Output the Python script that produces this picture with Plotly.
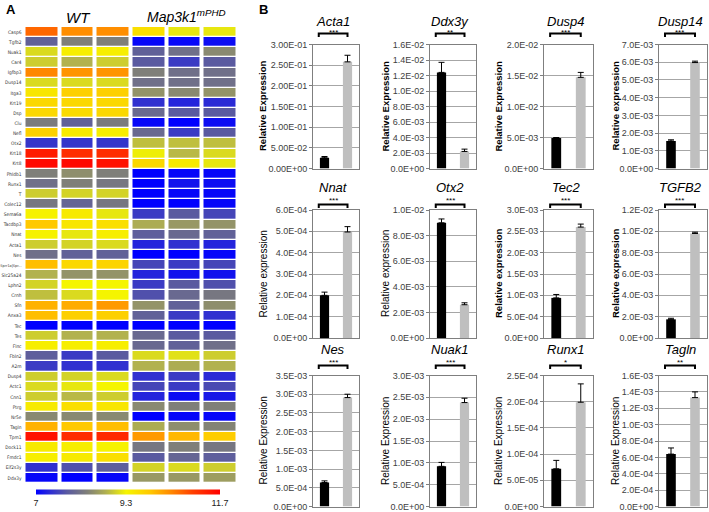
import numpy as np
import plotly.graph_objects as go

W, H = 709, 512

# ---------------- Heatmap data (panel A) ----------------
genes = ["Casp6", "Tgfb2", "Nuak1", "Car4", "Igfbp3", "Dusp14", "Itga3", "Krt19", "Dsp", "Clu",
         "Nefl", "Otx2", "Krt18", "Krt8", "Phldb1", "Runx1", "T", "Colec12", "Sema6a", "Tacdbp3",
         "Nnat", "Acta1", "Nes", "Sprr1a|Spr...", "Slc25a24", "Lphn2", "Crnh", "Sfn", "Anxa3", "Tec",
         "Tes", "Flnc", "Fbln2", "A2m", "Dusp4", "Actc1", "Cnn1", "Ptrg", "Nr5e", "Tagln",
         "Tpm1", "Dock11", "Fmdc1", "Eif2s3y", "Ddx3y"]
samples = ["WT-1", "WT-2", "WT-3", "mPHD-1", "mPHD-2", "mPHD-3"]

wt_expr = [
    [10.7, 10.4, 10.4], [7.9, 8.3, 8.3], [9.1, 9.4, 9.4], [9.0, 8.8, 9.0], [10.45, 10.35, 10.35],
    [9.1, 9.1, 9.1], [9.5, 9.8, 9.8], [9.7, 9.7, 9.7], [9.7, 9.65, 9.7], [8.25, 7.9, 8.25],
    [9.8, 9.45, 9.4], [7.45, 7.45, 7.45], [11.4, 11.2, 11.2], [11.6, 11.6, 11.5], [8.3, 8.45, 8.3],
    [8.1, 8.3, 8.2], [9.0, 9.05, 9.05], [8.2, 7.95, 8.2], [9.35, 9.45, 9.2], [9.9, 9.5, 9.6],
    [9.35, 9.2, 9.4], [9.0, 9.05, 9.1], [8.1, 7.9, 7.9], [10.0, 9.7, 9.75], [8.8, 8.5, 8.5],
    [9.05, 9.3, 9.3], [8.9, 9.1, 9.3], [10.1, 10.15, 10.3], [10.0, 9.8, 9.8], [7.0, 7.0, 7.0],
    [9.0, 8.8, 8.8], [9.4, 9.4, 9.4], [7.85, 7.5, 7.8], [7.5, 7.4, 7.4], [9.0, 9.05, 9.1],
    [9.1, 9.2, 9.3], [9.0, 8.85, 9.0], [9.45, 9.6, 9.5], [8.4, 8.4, 8.4], [10.1, 9.9, 10.0],
    [11.5, 11.2, 11.25], [9.45, 9.4, 9.35], [9.4, 9.45, 9.6], [7.4, 7.7, 7.85], [7.05, 7.0, 7.05],
]
mut_expr = [
    [9.6, 9.2, 9.2], [7.05, 7.05, 7.1], [7.9, 8.1, 8.4], [7.8, 7.5, 7.8], [8.3, 8.1, 8.1],
    [8.1, 8.1, 8.1], [8.5, 8.4, 8.5], [7.4, 7.3, 7.35], [8.0, 7.8, 7.8], [7.05, 7.0, 7.1],
    [8.0, 7.5, 7.8], [8.9, 8.9, 8.9], [9.25, 8.85, 9.1], [9.7, 9.45, 9.2], [7.0, 7.05, 7.05],
    [7.0, 7.15, 7.1], [7.0, 7.05, 7.05], [7.0, 7.0, 7.05], [7.5, 7.8, 7.6], [8.75, 8.55, 8.5],
    [7.85, 8.0, 7.9], [7.3, 7.4, 7.3], [7.0, 7.0, 7.05], [7.6, 7.5, 7.6], [7.3, 7.15, 7.15],
    [7.5, 7.8, 7.7], [7.7, 8.0, 8.2], [8.5, 7.9, 8.45], [7.9, 7.5, 7.4], [7.0, 7.0, 7.0],
    [8.0, 7.8, 7.8], [8.0, 7.9, 8.1], [9.1, 9.15, 9.0], [8.8, 8.75, 8.8], [7.4, 7.5, 7.35],
    [7.6, 7.5, 7.65], [7.3, 7.1, 7.2], [8.4, 8.3, 8.3], [7.0, 7.05, 7.05], [8.75, 8.45, 8.35],
    [10.3, 10.05, 9.85], [8.2, 8.3, 8.2], [7.8, 7.95, 7.85], [9.05, 9.1, 9.0], [8.55, 8.55, 8.6],
]
color_ticks = [7, 9.3, 11.7]

# ---------------- Bar data (panel B) ----------------
bar_genes = ["Acta1", "Ddx3y", "Dusp4", "Dusp14", "Nnat", "Otx2", "Tec2", "TGFB2",
             "Nes", "Nuak1", "Runx1", "Tagln"]
wt_mean = [0.026, 0.0124, 0.0049, 0.00155, 2.0e-4, 9.0e-3, 9.4e-4, 1.75e-3,
           6.4e-4, 9.2e-4, 7.2e-5, 6.4e-4]
wt_err = [0.003, 0.0013, 0.0001, 0.00007, 1.5e-5, 3.0e-4, 8.0e-5, 1.0e-4,
          4.5e-5, 9.0e-5, 1.6e-5, 7.5e-5]
mut_mean = [0.258, 0.0022, 0.0147, 0.00598, 4.97e-4, 2.6e-3, 2.6e-3, 9.8e-3,
            2.91e-3, 2.38e-3, 1.99e-4, 1.33e-3]
mut_err = [0.016, 0.0003, 0.0008, 0.00008, 2.5e-5, 1.5e-4, 7.0e-5, 1.2e-4,
           9.0e-5, 1.0e-4, 3.5e-5, 7.0e-5]
stars = ["***", "**", "***", "***", "***", "***", "***", "***", "***", "***", "*", "**"]
y_max = [0.30, 0.016, 0.020, 0.007, 6e-4, 0.010, 3e-3, 0.012, 3.5e-3, 3e-3, 2.5e-4, 1.6e-3]
y_step = [0.05, 0.002, 0.005, 0.001, 1e-4, 0.002, 5e-4, 0.002, 5e-4, 5e-4, 5e-5, 2e-4]
tick_dec = [2, 1, 1, 1, 1, 1, 1, 1, 1, 1, 1, 1]
y_titles = ["Relative Expression", "Relative Expression", "Relative Expression", "Relative expression",
            "Relative expression", "Relative expression", "Relative expression", "Relative expression",
            "Relative Expression", "Relative Expression", "Relative Expression", "Relative Expression"]
y_title_bold = [True, True, True, True, False, False, True, True, False, False, False, False]

# ---------------- helpers ----------------
def px(x):
    return x / W

def py(y):
    return 1 - y / H

FONT = "Liberation Sans, Arial, sans-serif"
NARROW = "Liberation Sans Narrow, DejaVu Sans Condensed, Liberation Sans, sans-serif"

colorscale = [
    [0.0, "#0000ff"], [0.085, "#3030d0"], [0.17, "#5a5aa0"], [0.28, "#808078"],
    [0.38, "#b0b050"], [0.49, "#f5f500"], [0.62, "#ffc800"], [0.72, "#ff9000"],
    [0.85, "#ff4000"], [1.0, "#ff0000"],
]

# long labels are drawn a little smaller so they fit left of the heatmap
gene_ticktext = [g if len(g) <= 8 else f"<span style='font-size:3.8px'>{g}</span>" for g in genes]

fig = go.Figure()

z = [w + m for w, m in zip(wt_expr, mut_expr)]
fig.add_trace(go.Heatmap(
    z=z, x=list(range(len(samples))), y=list(range(len(genes))),
    colorscale=colorscale, zmin=7, zmax=11.7, xgap=4, ygap=1.3,
    colorbar=dict(orientation="h", x=px(128), xanchor="center", y=py(497), yanchor="middle",
                  len=184 / W, lenmode="fraction", thickness=5, thicknessmode="pixels",
                  tickvals=color_ticks, ticktext=[str(t) for t in color_ticks], ticks="",
                  outlinewidth=0, xpad=0, ypad=0,
                  tickfont=dict(family=FONT, size=9, color="#222")),
    xaxis="x", yaxis="y",
))

layout = dict(
    template="none",
    width=W, height=H, margin=dict(l=0, r=0, t=0, b=0, pad=0, autoexpand=False),
    paper_bgcolor="white", plot_bgcolor="white", showlegend=False,
    xaxis=dict(domain=[px(23.5), px(237.5)], showticklabels=False, showgrid=False,
               zeroline=False, range=[-0.5, 5.5], automargin=False, showline=False, ticks=""),
    yaxis=dict(domain=[py(483), py(27)], range=[44.5, -0.5], tickmode="array",
               tickvals=list(range(len(genes))), ticktext=gene_ticktext, showgrid=False,
               zeroline=False, tickfont=dict(family=NARROW, size=4.8, color="#333"), ticks="",
               ticklabelstandoff=1, automargin=False, showline=False),
)

def ann(text, x, y, size, **kw):
    d = dict(text=text, x=px(x), y=py(y), xref="paper", yref="paper", xanchor="center",
             yanchor="middle", showarrow=False, font=dict(family=FONT, size=size, color="black"))
    d.update(kw)
    return d

annotations = [
    ann("<b>A</b>", 4, 9, 13, xanchor="left"),
    ann("<b>B</b>", 257, 9, 13, xanchor="left"),
    ann("<i>WT</i>", 78, 17, 15),
    ann("<i>Map3k1<sup>mPHD</sup></i>", 187, 16, 14),
]
shapes = []

col_x = [(313, 359), (430, 476), (544, 593), (659, 707)]
row_y = [(44.5, 168.5), (210, 338), (375.5, 506.5)]
title_y = [21.5, 187.5, 349]
star_y = [32.5, 200.5, 362.5]
bracket_y = [33.5, 204.5, 365.5]
ytitle_x = [262.5, 385, 498, 615]

for i, g in enumerate(bar_genes):
    r, c = divmod(i, 4)
    k = i + 2
    xl, xr = col_x[c]
    yt, yb = row_y[r]
    fig.add_trace(go.Bar(
        x=[0, 1], y=[wt_mean[i], mut_mean[i]], width=0.4,
        marker=dict(color=["black", "#bfbfbf"], line=dict(width=0)),
        error_y=dict(type="data", array=[wt_err[i], mut_err[i]], arrayminus=[0, 0],
                     symmetric=False, color="black", thickness=1, width=3),
        xaxis=f"x{k}", yaxis=f"y{k}", name=g,
    ))
    tv = np.round(np.arange(0, y_max[i] + y_step[i] / 2, y_step[i]), 10)
    fmt = "{:.%dE}" % tick_dec[i]
    layout[f"xaxis{k}"] = dict(domain=[px(xl), px(xr)], range=[-0.5, 1.5], anchor=f"y{k}",
                               showticklabels=False, showgrid=False, zeroline=False,
                               showline=True, mirror=True, linecolor="#7f7f7f", linewidth=1,
                               ticks="", automargin=False)
    layout[f"yaxis{k}"] = dict(domain=[py(yb), py(yt)], range=[0, y_max[i]], anchor=f"x{k}",
                               tickmode="array", tickvals=list(tv),
                               ticktext=[fmt.format(v) for v in tv],
                               showgrid=True, gridcolor="#a6a6a6", gridwidth=1, zeroline=False,
                               showline=True, mirror=True, linecolor="#7f7f7f", linewidth=1,
                               ticks="outside", ticklen=3, tickcolor="#7f7f7f", automargin=False,
                               tickfont=dict(family=FONT, size=9, color="#404040"))
    cx = (xl + xr) / 2 - 3
    annotations.append(ann(f"<i>{g}</i>", cx, title_y[r], 13))
    annotations.append(dict(text=stars[i], x=0.37, xref=f"x{k}", y=py(star_y[r]), yref="paper",
                            xanchor="center", yanchor="middle", showarrow=False,
                            font=dict(family=FONT, size=8, color="black")))
    if y_title_bold[i]:
        annotations.append(ann(f"<b>{y_titles[i]}</b>", ytitle_x[c], (yt + yb) / 2, 9.5,
                               textangle=-90))
    else:
        annotations.append(ann(y_titles[i], ytitle_x[c], (yt + yb) / 2, 10, textangle=-90))
    b0 = py(bracket_y[r])
    b1 = py(bracket_y[r] + 3.5)
    shapes.append(dict(type="path", xref=f"x{k}", yref="paper",
                       path=f"M -0.25,{b1} L -0.25,{b0} L 1.0,{b0} L 1.0,{b1}",
                       line=dict(color="black", width=2)))

layout["annotations"] = annotations
layout["shapes"] = shapes
fig.update_layout(**layout)
fig.write_html("out.html", config={"displayModeBar": False},
               post_script="document.body.style.margin='0';")
